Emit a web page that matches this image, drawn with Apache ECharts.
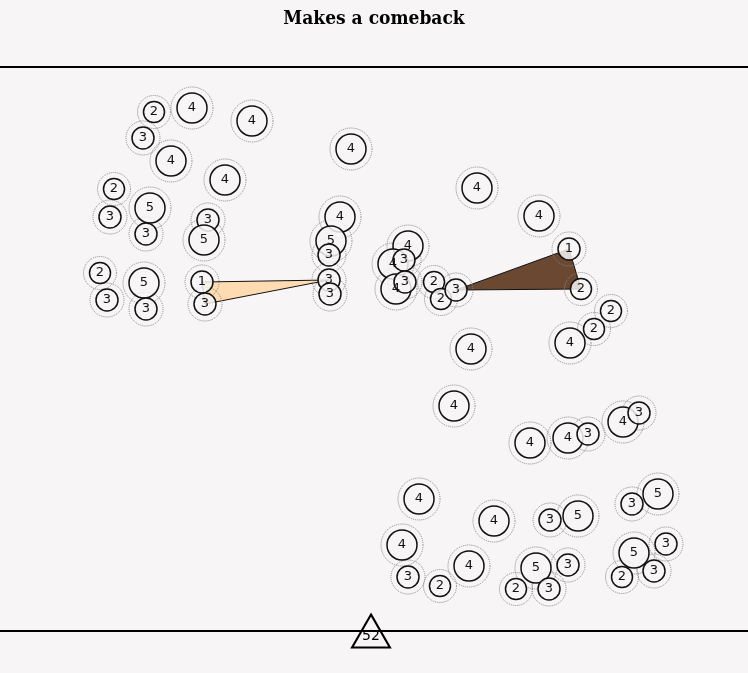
<!DOCTYPE html>
<html>
<head>
<meta charset="utf-8">
<script src="https://cdn.jsdelivr.net/npm/echarts@6/dist/echarts.min.js"></script>
<style>
  html, body { margin: 0; padding: 0; background: #f7f5f5; }
  #root { width: 748px; height: 673px; }
</style>
</head>
<body>
<div id="root"></div>
<script>
// node positions (layout units) and the count shown in each circle
const nodeX = [154, 192, 143, 171, 252, 225, 114, 150, 110, 146, 208, 204, 100, 144, 107, 146, 202, 205,
  351, 340, 331, 329, 329, 330,
  408, 393, 396, 404, 405, 434, 441, 456,
  477, 539, 569, 581, 611, 594, 570, 471, 454,
  530, 568, 588, 623, 639,
  419, 494, 550, 578, 632, 658, 402, 408, 440, 469, 536, 568, 516, 549, 634, 666, 622, 654]
const nodeY = [112, 108, 138, 161, 121, 180, 189, 208, 217, 234, 220, 240, 273, 283, 300, 309, 282, 304,
  149, 217, 241, 255, 280, 294,
  246, 264, 289, 260, 282, 282, 299, 290,
  188, 216, 249, 289, 311, 329, 343, 349, 406,
  443, 438, 434, 422, 413,
  499, 521, 520, 516, 504, 494, 545, 577, 586, 566, 568, 565, 589, 589, 553, 544, 577, 571]
const counts = [2, 4, 3, 4, 4, 4, 2, 5, 3, 3, 3, 5, 2, 5, 3, 3, 1, 3,
  4, 4, 5, 3, 3, 3,
  4, 4, 4, 3, 3, 2, 2, 3,
  4, 4, 1, 2, 2, 2, 4, 4, 4,
  4, 4, 3, 4, 3,
  4, 4, 3, 5, 3, 5, 4, 3, 2, 4, 5, 3, 2, 3, 5, 3, 2, 3]

// triangles joining nodes (indices into the arrays above)
const lightTriangle = [16, 17, 22]
const darkTriangle = [31, 34, 35]

const ruleY = [67, 631]
const badgeX = 371
const badgeY = 631
const badgeText = '52'

const bg = '#f7f5f5'
const sizeFor = v => ({ 1: 22, 2: 21, 3: 22, 4: 30, 5: 30 })[v]

const nodes = counts.map((c, i) => [nodeX[i], nodeY[i], c])
const triangles = [
  { idx: lightTriangle, color: '#fedbb0' },
  { idx: darkTriangle, color: '#6a4832' }
]

const chart = echarts.init(document.getElementById('root'))
chart.setOption({
  backgroundColor: bg,
  animation: false,
  title: {
    text: 'Makes a comeback',
    left: 'center',
    top: 5,
    textStyle: { fontFamily: 'DejaVu Serif Condensed', fontWeight: 'bold', fontSize: 19, color: '#000' }
  },
  grid: { left: 0, right: 0, top: 0, bottom: 0 },
  xAxis: { type: 'value', min: 0, max: 748, show: false },
  yAxis: { type: 'value', min: 0, max: 673, inverse: true, show: false },
  series: [
    {
      type: 'custom',
      z: 1,
      data: triangles.map((t, i) => [i]),
      renderItem: (params, api) => {
        const t = triangles[params.dataIndex]
        const pts = t.idx.map(k => api.coord([nodeX[k], nodeY[k]]))
        return {
          type: 'polygon',
          shape: { points: pts },
          style: { fill: t.color, stroke: '#111', lineWidth: 1 }
        }
      }
    },
    {
      type: 'scatter',
      z: 2,
      silent: true,
      data: nodes,
      symbolSize: v => sizeFor(v[2]) + 12,
      itemStyle: { color: 'rgba(0,0,0,0)', borderColor: '#888', borderWidth: 1, borderType: [1, 1], opacity: 1 },
      markLine: {
        silent: true,
        symbol: 'none',
        label: { show: false },
        lineStyle: { color: '#000', width: 2, type: 'solid' },
        data: ruleY.map(y => ({ yAxis: y }))
      }
    },
    {
      type: 'scatter',
      z: 3,
      data: nodes,
      symbolSize: v => sizeFor(v[2]),
      itemStyle: { color: 'rgba(247,245,245,0.85)', borderColor: '#111', borderWidth: 1.5, opacity: 1 },
      label: {
        show: true,
        position: 'inside',
        formatter: p => p.value[2],
        fontFamily: 'DejaVu Sans',
        fontSize: 13,
        color: '#111'
      }
    },
    {
      type: 'scatter',
      z: 4,
      data: [[badgeX, badgeY, badgeText]],
      symbol: 'triangle',
      symbolSize: [38, 33],
      itemStyle: { color: bg, borderColor: '#000', borderWidth: 2, opacity: 1 },
      label: {
        show: true,
        position: 'inside',
        offset: [0, 5],
        formatter: p => p.value[2],
        fontFamily: 'DejaVu Sans',
        fontSize: 14,
        color: '#000'
      }
    }
  ]
})
</script>
</body>
</html>
